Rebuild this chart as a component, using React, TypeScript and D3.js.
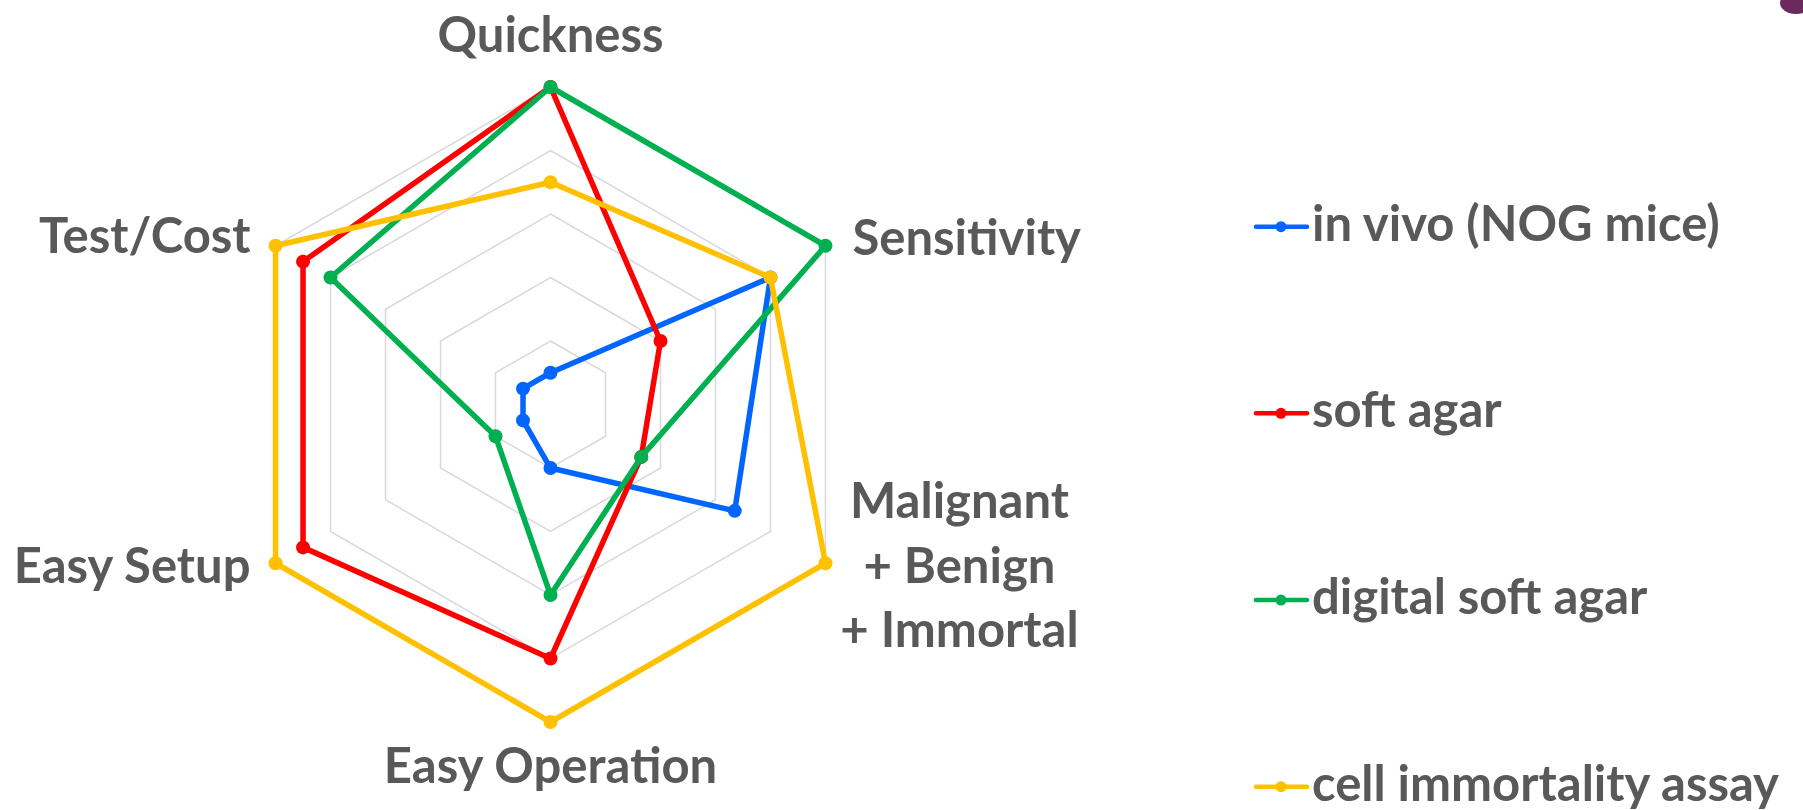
import * as d3 from "d3";
import { useEffect } from "react";

const categories = [
  "Quickness",
  "Sensitivity",
  "Malignant\n+ Benign\n+ Immortal",
  "Easy Operation",
  "Easy Setup",
  "Test/Cost",
];

const seriesNames = [
  "in vivo (NOG mice)",
  "soft agar",
  "digital soft agar",
  "cell immortality assay",
];

const inVivo = [0.5, 4, 3.35, 1, 0.5, 0.5];
const softAgar = [5, 2, 1.65, 4, 4.5, 4.5];
const digitalSoftAgar = [5, 5, 1.65, 3, 1, 4];
const cellImmortality = [3.5, 4, 5, 5, 5, 5];

const gridLevels = [1, 2, 3, 4, 5];

const COLORS = ["#0066ff", "#ff0000", "#00b050", "#ffc000"];
const TEXT = "#595959";
const FONT = "Lato, 'Open Sans', sans-serif";

const W = 1803;
const H = 810;
const cx = 550.5;
const cy = 404.5;
const R = 317.5;

// label offsets from the outer vertex of each axis
const labelPos: { dx: number; dy: number; anchor: string }[] = [
  { dx: 0, dy: -35, anchor: "middle" },
  { dx: 27, dy: 9, anchor: "start" },
  { dx: 134, dy: -45, anchor: "middle" },
  { dx: 0, dy: 61, anchor: "middle" },
  { dx: -25, dy: 20, anchor: "end" },
  { dx: -25, dy: 7, anchor: "end" },
];

export default function App() {
  useEffect(() => {
    document.body.style.margin = "0";
  }, []);

  const all = [inVivo, softAgar, digitalSoftAgar, cellImmortality];
  const n = categories.length;
  const r = d3.scaleLinear().domain([0, 5]).range([0, R]);
  const angle = (i: number) => (i * 2 * Math.PI) / n;
  const px = (i: number, v: number) => Math.sin(angle(i)) * r(v);
  const py = (i: number, v: number) => -Math.cos(angle(i)) * r(v);

  const radial = d3
    .lineRadial<number>()
    .angle((_, i) => angle(i))
    .radius(d => r(d))
    .curve(d3.curveLinearClosed);

  const legendY = d3.scalePoint<string>().domain(seriesNames).range([226.7, 786.7]);

  return (
    <svg width={W} height={H} style={{ display: "block", background: "#fff" }}>
      <g transform={`translate(${cx},${cy})`}>
        {gridLevels.map(l => (
          <path
            key={l}
            d={radial(categories.map(() => l)) || ""}
            fill="none"
            stroke="#d9d9d9"
            strokeWidth={1.5}
          />
        ))}
        {all.map((s, si) => (
          <g key={si}>
            <path
              d={radial(s) || ""}
              fill="none"
              stroke={COLORS[si]}
              strokeWidth={5.5}
              strokeLinejoin="round"
            />
            {s.map((v, i) => (
              <circle key={i} cx={px(i, v)} cy={py(i, v)} r={7} fill={COLORS[si]} />
            ))}
          </g>
        ))}
        {categories.map((c, i) => {
          const lp = labelPos[i];
          const lines = c.split("\n");
          return (
            <text
              key={c}
              x={px(i, 5) + lp.dx}
              y={py(i, 5) + lp.dy}
              textAnchor={lp.anchor}
              fontFamily={FONT}
              fontWeight={700}
              fontSize={49}
              fill={TEXT}
            >
              {lines.map((t, k) => (
                <tspan key={k} x={px(i, 5) + lp.dx} dy={k === 0 ? 0 : 64.5}>
                  {t}
                </tspan>
              ))}
            </text>
          );
        })}
      </g>
      <g>
        {seriesNames.map((name, si) => {
          const y = legendY(name) as number;
          return (
            <g key={name}>
              <line x1={1256} x2={1307} y1={y} y2={y} stroke={COLORS[si]} strokeWidth={4.5} strokeLinecap="round" />
              <circle cx={1281} cy={y} r={5.5} fill={COLORS[si]} />
              <text
                x={1312}
                y={y + 14}
                fontFamily={FONT}
                fontWeight={700}
                fontSize={49}
                fill={TEXT}
              >
                {name}
              </text>
            </g>
          );
        })}
      </g>
      <ellipse cx={1796} cy={3} rx={16} ry={11} fill="#6b2a5e" />
    </svg>
  );
}
